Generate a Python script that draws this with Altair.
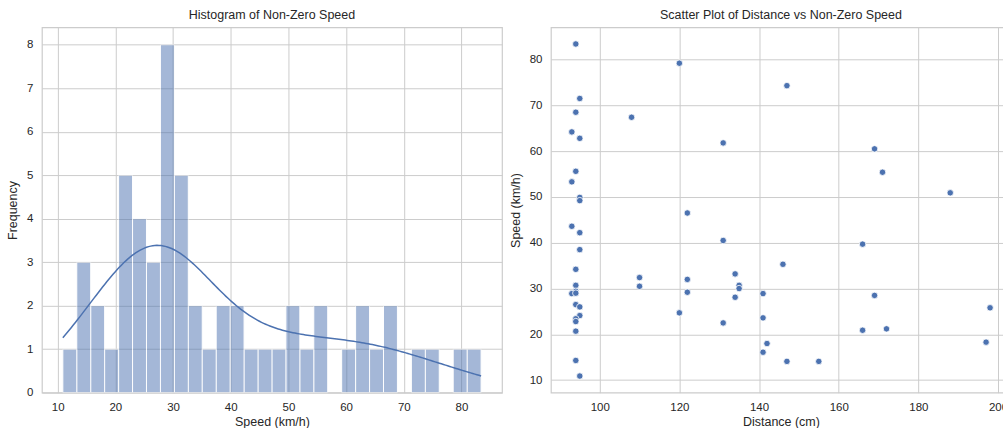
import altair as alt
import numpy as np
import pandas as pd

# Recorded samples: distance to the sensor (cm) and the measured non-zero speed (km/h)
distance_cm = [
    94, 120, 147, 95, 94, 108, 93, 95, 131, 169,
    94, 171, 93, 188, 95, 95, 122, 93, 95, 131,
    166, 95, 94, 146, 110, 122, 134, 94, 135, 135,
    110, 94, 93, 122, 141, 169, 134, 94, 95, 198,
    120, 95, 141, 94, 94, 131, 94, 166, 172, 142,
    197, 141, 94, 147, 155, 95, 94,
]
speed_kmh = [
    83.4, 79.2, 74.3, 71.5, 68.5, 67.4, 64.2, 62.8, 61.8, 60.5,
    55.6, 55.4, 53.3, 50.9, 49.9, 49.2, 46.5, 43.6, 42.2, 40.5,
    39.7, 38.5, 34.2, 35.3, 32.4, 32.0, 33.2, 30.7, 30.7, 30.0,
    30.5, 29.4, 28.9, 29.2, 28.9, 28.5, 28.1, 26.5, 26.0, 25.8,
    24.7, 24.1, 23.6, 23.4, 22.8, 22.5, 20.7, 20.9, 21.2, 18.0,
    18.3, 16.1, 14.3, 14.1, 14.1, 10.9, 29.0,
]

N_BINS = 30
BLUE = "#4c72b0"
GRID = "#cccccc"
TEXT = "#262626"
FONT = "Liberation Sans"

df = pd.DataFrame({"distance": distance_cm, "speed": speed_kmh})

s_min, s_max = float(min(speed_kmh)), float(max(speed_kmh))
bin_step = (s_max - s_min) / N_BINS
n = len(speed_kmh)
# Scott's rule, as used by a Gaussian KDE
bandwidth = float(np.std(speed_kmh, ddof=1)) * n ** (-0.2)

pad_s = 0.05 * (s_max - s_min)
d_min, d_max = float(min(distance_cm)), float(max(distance_cm))
pad_d = 0.05 * (d_max - d_min)
speed_domain = [s_min - pad_s, s_max + pad_s]

W, H = 461, 366

# Equal-width bins spanning [min, max]; the maximum falls in the last bin
bars = (
    alt.Chart(df)
    .transform_calculate(
        idx=f"min(floor((datum.speed - {s_min}) / {bin_step}), {N_BINS - 1})"
    )
    .transform_calculate(bin_start=f"{s_min} + datum.idx * {bin_step}")
    .transform_calculate(bin_end=f"datum.bin_start + {bin_step}")
    .transform_aggregate(count="count()", groupby=["bin_start", "bin_end"])
    .mark_rect(color=BLUE, opacity=0.5, stroke="white", strokeWidth=1, strokeOpacity=1)
    .encode(
        x=alt.X(
            "bin_start:Q",
            title="Speed (km/h)",
            scale=alt.Scale(domain=speed_domain, nice=False, zero=False),
            axis=alt.Axis(values=[10, 20, 30, 40, 50, 60, 70, 80]),
        ),
        x2="bin_end:Q",
        y=alt.Y(
            "count:Q",
            title="Frequency",
            scale=alt.Scale(domain=[0, 8.4], nice=False),
            axis=alt.Axis(values=list(range(0, 9))),
        ),
        y2=alt.datum(0),
    )
)

# KDE scaled to counts per bin
kde = (
    alt.Chart(df)
    .transform_density(
        "speed",
        as_=["value", "density"],
        bandwidth=bandwidth,
        extent=[s_min, s_max],
        steps=200,
        counts=True,
    )
    .transform_calculate(freq=f"datum.density * {bin_step}")
    .mark_line(color=BLUE, strokeWidth=1.5)
    .encode(
        x=alt.X("value:Q", scale=alt.Scale(domain=speed_domain, nice=False, zero=False)),
        y=alt.Y("freq:Q"),
    )
)

hist = (bars + kde).properties(
    width=W, height=H, title="Histogram of Non-Zero Speed"
)

scatter = (
    alt.Chart(df)
    .mark_circle(size=42, color=BLUE, opacity=1, stroke="white", strokeWidth=0.8)
    .encode(
        x=alt.X(
            "distance:Q",
            title="Distance (cm)",
            scale=alt.Scale(domain=[d_min - pad_d, d_max + pad_d], nice=False, zero=False),
            axis=alt.Axis(values=[100, 120, 140, 160, 180, 200]),
        ),
        y=alt.Y(
            "speed:Q",
            title="Speed (km/h)",
            scale=alt.Scale(domain=speed_domain, nice=False, zero=False),
            axis=alt.Axis(values=[10, 20, 30, 40, 50, 60, 70, 80]),
        ),
    )
    .properties(width=W, height=H, title="Scatter Plot of Distance vs Non-Zero Speed")
)

# The right panel runs slightly past the page edge; a negative right padding
# trims the canvas there instead of shrinking the whole figure.
chart = (
    alt.hconcat(hist, scatter, spacing=49, bounds="flush")
    .properties(padding={"left": 6, "top": 7, "right": -9, "bottom": 0})
    .configure(font=FONT, background="white")
    .configure_view(stroke=GRID, strokeWidth=1.2)
    .configure_axis(
        grid=True,
        gridColor=GRID,
        gridWidth=1,
        domain=False,
        ticks=False,
        labelColor=TEXT,
        labelFont=FONT,
        labelFontSize=11.5,
        labelPadding=9,
        titleColor=TEXT,
        titleFont=FONT,
        titleFontSize=12.5,
        titleFontWeight="normal",
    )
    .configure_axisX(titlePadding=2)
    .configure_axisY(titlePadding=7)
    .configure_title(
        font=FONT, fontSize=12.5, fontWeight="normal", color=TEXT, offset=6, anchor="middle"
    )
)

chart.save("out.html", embed_options={"renderer": "svg", "actions": False})
